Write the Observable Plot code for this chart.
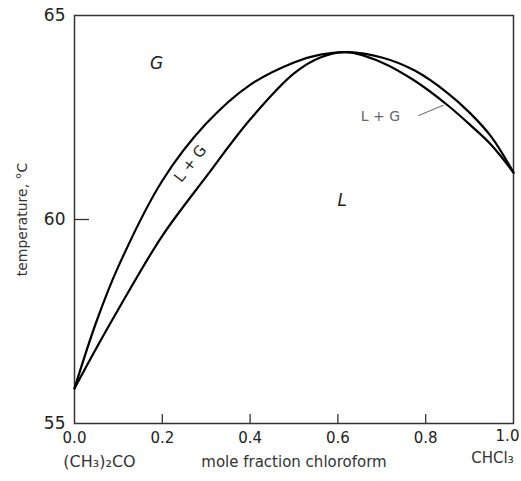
<!DOCTYPE html>
<html>
<head>
<meta charset="utf-8">
<script src="https://cdn.jsdelivr.net/npm/d3@7"></script>
<script src="https://cdn.jsdelivr.net/npm/@observablehq/plot@0.6"></script>
<style>
  html, body { margin: 0; padding: 0; background: #fff; }
  #chart { width: 521px; height: 481px; }
</style>
</head>
<body>
<div id="chart"></div>
<script>
// Tick values
const xTicks = [0.0, 0.2, 0.4, 0.6, 0.8];
const xLastTick = 1.0;
const yTicks = [55, 60, 65];
const xInnerTicks = [0.2, 0.4, 0.6, 0.8];
const yInnerTicks = [60];

// Vapour (upper, dew point) curve
const vaporX = [0.0, 0.05, 0.10, 0.20, 0.30, 0.40, 0.50, 0.56, 0.62, 0.70, 0.775, 0.85, 0.90, 0.95, 1.0];
const vaporT = [55.86, 57.5, 58.85, 60.95, 62.35, 63.3, 63.85, 64.04, 64.1, 63.97, 63.65, 63.1, 62.62, 62.02, 61.15];

// Liquid (lower, bubble point) curve
const liquidX = [0.0, 0.05, 0.10, 0.20, 0.30, 0.40, 0.50, 0.56, 0.62, 0.70, 0.775, 0.85, 0.90, 0.95, 1.0];
const liquidT = [55.86, 56.85, 57.8, 59.6, 61.05, 62.45, 63.58, 63.97, 64.1, 63.85, 63.4, 62.8, 62.33, 61.82, 61.15];

// Region labels
const regionLabels = ["G", "L"];
const regionX = [0.187, 0.61];
const regionT = [63.82, 60.47];

const lgLabel = "L + G";
const lgX = 0.264, lgT = 61.37;

const lgRightLabel = "L + G";
const lgRightX = 0.697, lgRightT = 62.52;
const pointerX = [0.784, 0.84];
const pointerT = [62.55, 62.8];

const xTitle = "mole fraction chloroform";
const yTitle = "temperature, °C";
const leftCompound = "(CH₃)₂CO";
const rightCompound = "CHCl₃";

const vapor = vaporX.map((x, i) => ({x, t: vaporT[i]}));
const liquid = liquidX.map((x, i) => ({x, t: liquidT[i]}));
const regions = regionLabels.map((s, i) => ({s, x: regionX[i], t: regionT[i]}));
const pointer = pointerX.map((x, i) => ({x, t: pointerT[i]}));

const font = "DejaVu Sans, Liberation Sans, sans-serif";

const chart = Plot.plot({
  width: 521,
  height: 481,
  marginLeft: 74,
  marginRight: 8,
  marginTop: 15,
  marginBottom: 58,
  style: {fontFamily: font, background: "#fff", color: "#222"},
  x: {domain: [0, 1]},
  y: {domain: [55, 65]},
  marks: [
    Plot.frame({stroke: "#333", strokeWidth: 1.5}),
    Plot.ruleX(xInnerTicks, {x: d => d, y1: 55, y2: 55, insetTop: -9, stroke: "#333", strokeWidth: 1.3}),
    Plot.ruleY(yInnerTicks, {y: d => d, x1: 0, x2: 0, insetRight: -15, stroke: "#333", strokeWidth: 1.3}),
    Plot.axisX(xTicks, {tickSize: 0, tickPadding: 9, tickFormat: d3.format(".1f"), fontSize: 15, label: null, fill: "#222"}),
    Plot.text([xLastTick], {x: d => d, frameAnchor: "bottom", dy: 17, dx: -6, text: d3.format(".1f"), fontSize: 15, fill: "#222"}),
    Plot.axisY(yTicks, {tickSize: 0, tickPadding: 9, fontSize: 17, label: null, fill: "#222"}),
    Plot.line(vapor, {x: "x", y: "t", curve: "catmull-rom", stroke: "#000", strokeWidth: 2.2}),
    Plot.line(liquid, {x: "x", y: "t", curve: "catmull-rom", stroke: "#000", strokeWidth: 2.2}),
    Plot.text(regions, {x: "x", y: "t", text: "s", fontSize: 17, fill: "#222", fontStyle: "italic"}),
    Plot.text([lgLabel], {x: () => lgX, y: () => lgT, text: d => d, fontSize: 15, rotate: -52, fill: "#222"}),
    Plot.text([lgRightLabel], {x: () => lgRightX, y: () => lgRightT, text: d => d, fontSize: 14, fill: "#666"}),
    Plot.line(pointer, {x: "x", y: "t", stroke: "#777", strokeWidth: 1.2}),
    Plot.text([yTitle], {frameAnchor: "left", textAnchor: "middle", dx: -52, rotate: -90, text: d => d, fontSize: 14, fill: "#333"}),
    Plot.text([xTitle], {frameAnchor: "bottom", textAnchor: "middle", dy: 43, text: d => d, fontSize: 15, fill: "#333"}),
    Plot.text([leftCompound], {x: () => 0.0, frameAnchor: "bottom", textAnchor: "middle", dy: 43, dx: 25, text: d => d, fontSize: 16, fill: "#333"}),
    Plot.text([rightCompound], {x: () => 1.0, frameAnchor: "bottom", textAnchor: "middle", dy: 39, dx: -21, text: d => d, fontSize: 15, fill: "#333"})
  ]
});
document.getElementById("chart").appendChild(chart);
</script>
</body>
</html>
